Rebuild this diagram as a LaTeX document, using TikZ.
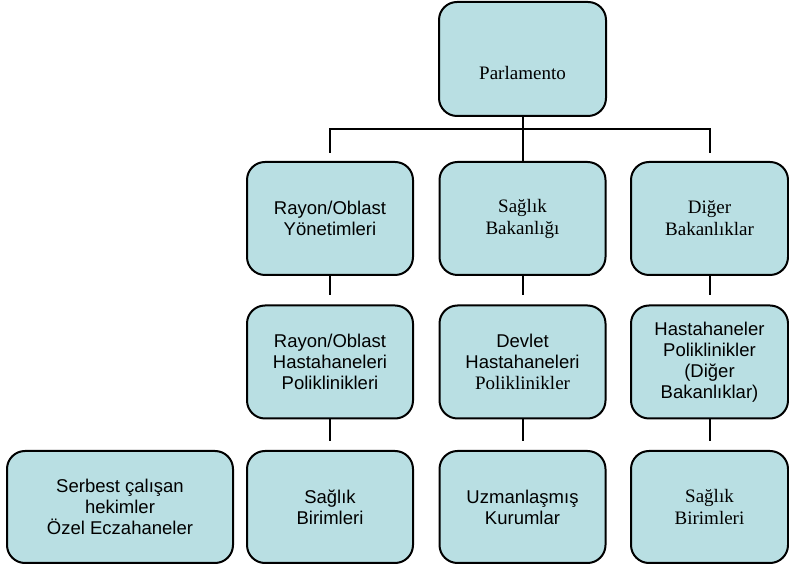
\documentclass[tikz,border=0pt]{standalone}
\usepackage{fontspec}
\setmainfont{Liberation Serif}
\setsansfont{Liberation Sans}
\definecolor{boxfill}{RGB}{185,223,227}
\newcommand{\serfont}{\rmfamily\fontsize{19}{22}\selectfont}
\newcommand{\sanfont}{\sffamily\fontsize{18.5}{21}\selectfont}

\begin{document}
\begin{tikzpicture}[x = 1pt, y = 1pt, % one unit is one pixel
                line width = 2pt, % line style
                node distance = 7mm
            ]

            \tikzstyle{box}=[draw = black, fill = boxfill, rounded corners = 18pt,
            minimum width = 166pt, minimum height = 113pt, align = center,
            inner sep = 2pt]
            \tikzstyle{serbox}=[box, font = \serfont]
            \tikzstyle{sanbox}=[box, font = \sanfont]

            \useasboundingbox (0,0) rectangle (789,564);

            % top
            \node (1) [box, minimum width = 167pt, minimum height = 114pt,
                label = {[font = \serfont, yshift = -14pt]center:Parlamento}]
                at (522.5,505) {};

            % second row
            \node (3) [serbox, below of=1, node distance = 159.5pt]
                {Sağlık\\Bakanlığı};
            \node (2) [sanbox, left of=3, node distance = 192.5pt]
                {Rayon/Oblast\\Yönetimleri};
            \node (4) [serbox, right of=3, node distance = 187pt,
                minimum width = 157pt] {Diğer\\Bakanlıklar};

            % third row
            \node (5) [sanbox, below of=2, node distance = 143.5pt]
                {Rayon/Oblast\\Hastahaneleri\\Poliklinikleri};
            \node (6) [sanbox, below of=3, node distance = 143.5pt]
                {Devlet\\Hastahaneleri\\{\serfont Poliklinikler}};
            \node (7) [sanbox, below of=4, node distance = 143.5pt,
                minimum width = 157pt]
                {Hastahaneler\\Poliklinikler\\(Diğer\\Bakanlıklar)};

            % bottom row
            \node (8) [sanbox, below of=5, node distance = 145pt,
                minimum height = 112pt] {Sağlık\\Birimleri};
            \node (9) [sanbox, below of=6, node distance = 145pt,
                minimum height = 112pt] {Uzmanlaşmış\\Kurumlar};
            \node (10) [serbox, below of=7, node distance = 145pt,
                minimum width = 157pt, minimum height = 112pt]
                {Sağlık\\Birimleri};
            \node (11) [sanbox, left of=8, node distance = 210pt,
                minimum width = 226pt, minimum height = 112pt]
                {Serbest çalışan\\hekimler\\Özel Eczahaneler};

            \path (1) edge (3);
            \draw[shorten <= 8pt, shorten >= 8pt] (2.north) -- ++(0,31.5)
                -| (4.north);
            \path[shorten >= 9pt] (2) edge (5) (3) edge (6) (4) edge (7)
                (5) edge (8) (6) edge (9) (7) edge (10);
\end{tikzpicture}
\end{document}
